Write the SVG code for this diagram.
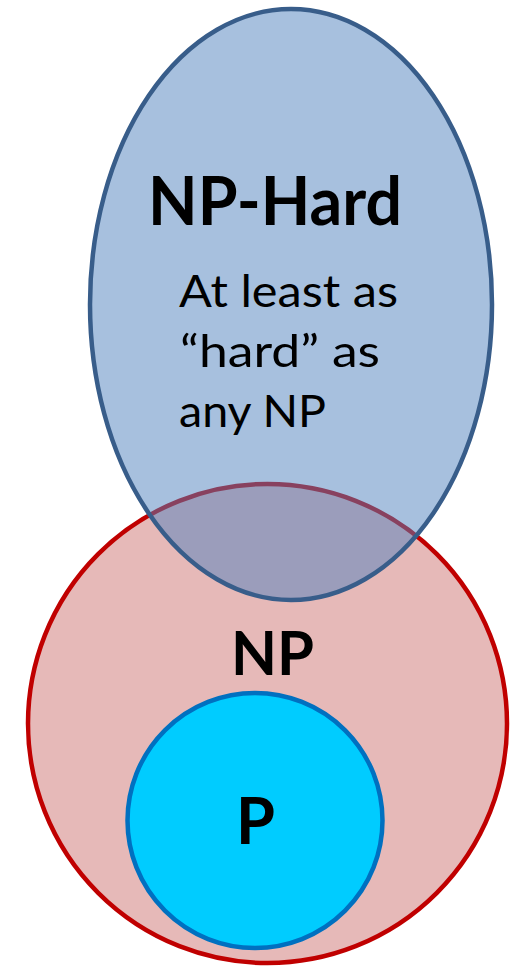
<svg xmlns="http://www.w3.org/2000/svg" width="519" height="967" viewBox="0 0 519 967">
  <style>
    .lbl { font-family: Lato, "Open Sans", "Liberation Sans", sans-serif; fill: #000; }
    .bold { font-weight: bold; }
  </style>
  <rect width="519" height="967" fill="#ffffff"/>
  <!-- NP set -->
  <g id="np">
    <circle cx="267.5" cy="723.5" r="239.5" fill="#E6B9B8" stroke="#C00000" stroke-width="4.5"/>
  </g>
  <!-- NP-Hard set, translucent so the overlap shows through -->
  <g id="np-hard">
    <ellipse cx="291" cy="304.5" rx="201" ry="295.5" fill="#4F81BD" fill-opacity="0.5" stroke="#385D8A" stroke-width="4.5"/>
    <text class="lbl bold" x="148" y="225" font-size="67" textLength="254" lengthAdjust="spacingAndGlyphs">NP-Hard</text>
    <text class="lbl" x="179" y="307" font-size="45" textLength="219" lengthAdjust="spacingAndGlyphs">At least as</text>
    <text class="lbl" x="180" y="367" font-size="45" textLength="200" lengthAdjust="spacingAndGlyphs">“hard” as</text>
    <text class="lbl" x="179" y="427" font-size="45" textLength="147" lengthAdjust="spacingAndGlyphs">any NP</text>
  </g>
  <g id="np-label">
    <text class="lbl bold" x="231" y="675" font-size="61" textLength="83" lengthAdjust="spacingAndGlyphs">NP</text>
  </g>
  <!-- P set inside NP -->
  <g id="p">
    <circle cx="255" cy="820.5" r="127.5" fill="#00CCFF" stroke="#0070C0" stroke-width="4.5"/>
    <text class="lbl bold" x="236" y="844" font-size="65" textLength="39" lengthAdjust="spacingAndGlyphs">P</text>
  </g>
  <g id="connectors"/>
</svg>
